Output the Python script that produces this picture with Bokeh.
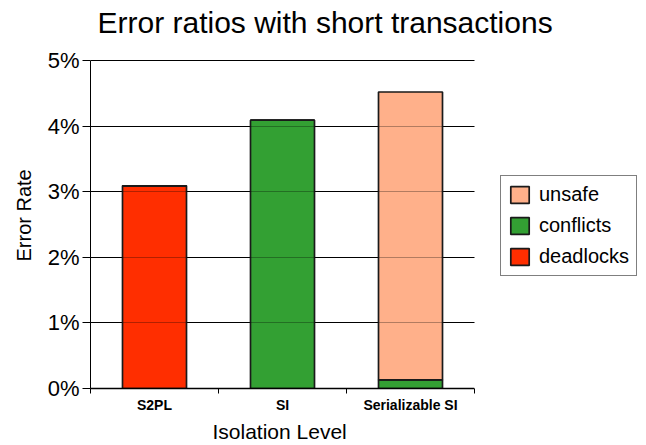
from bokeh.plotting import figure
from bokeh.models import (ColumnDataSource, FixedTicker, NumeralTickFormatter, Legend,
                          LegendItem, Grid, Range1d, BoxAnnotation, Label, Title)
from bokeh.embed import file_html
from bokeh.resources import INLINE

title_text = "Error ratios with short transactions"
x_title = "Isolation Level"
y_title = "Error Rate"
categories = ["S2PL", "SI", "Serializable SI"]
deadlocks = [0.0309, 0.0, 0.0]
conflicts = [0.0, 0.0409, 0.0013]
unsafe = [0.0, 0.0, 0.0439]
y_ticks = [0.0, 0.01, 0.02, 0.03, 0.04, 0.05]

n = len(categories)
y_max = y_ticks[-1]
x_pos = [i + 0.5 for i in range(n)]
src = ColumnDataSource(dict(x=x_pos, deadlocks=deadlocks, conflicts=conflicts, unsafe=unsafe))

FONT = "Liberation Sans"

# layout (pixels)
W, H = 646, 445
LEFT, BAR_AREA = 90, 384      # plot area width used by the categories
TOP, BOTTOM = 60, 388         # pixel rows of the 5% and 0% lines
x_end = n * (W - LEFT) / BAR_AREA          # frame extends under the legend area
y_end = y_max * BOTTOM / (BOTTOM - TOP)    # frame extends up under the title

p = figure(width=W, height=H, output_backend="svg", toolbar_location=None,
           x_range=Range1d(0, x_end), y_range=Range1d(0, y_end),
           min_border_left=LEFT, min_border_right=0, min_border_top=0,
           min_border_bottom=H - BOTTOM)
p.outline_line_color = None
p.background_fill_color = "white"
p.border_fill_color = "white"

colors = ["#FF2E00", "#33A033", "#FFB08A"]
names = ["deadlocks", "conflicts", "unsafe"]
rs = p.vbar_stack(names, x="x", width=0.5, source=src, color=colors,
                  line_color="#1a1a1a", line_width=1.7)

# y axis (limited to 0..5%)
p.yaxis.bounds = (0, y_max)
p.yaxis.ticker = FixedTicker(ticks=y_ticks)
p.yaxis.formatter = NumeralTickFormatter(format="0%")
p.yaxis.major_label_text_font = FONT
p.yaxis.major_label_text_font_size = "22px"
p.yaxis.major_label_text_color = "black"
p.yaxis.major_tick_in = 0
p.yaxis.major_tick_out = 8
p.yaxis.minor_tick_line_color = None
p.yaxis.axis_line_color = "black"
p.yaxis.major_tick_line_color = "black"
p.yaxis.major_label_standoff = 3

# x axis (limited to the category area)
p.xaxis.bounds = (0, n)
p.xaxis.ticker = FixedTicker(ticks=x_pos, minor_ticks=list(range(n + 1)))
p.xaxis.major_label_overrides = {x: c for x, c in zip(x_pos, categories)}
p.xaxis.major_label_text_font = FONT
p.xaxis.major_label_text_font_size = "14px"
p.xaxis.major_label_text_font_style = "bold"
p.xaxis.major_label_text_color = "black"
p.xaxis.major_tick_in = 0
p.xaxis.major_tick_out = 0
p.xaxis.minor_tick_in = 0
p.xaxis.minor_tick_out = 5
p.xaxis.minor_tick_line_color = "black"
p.xaxis.axis_line_color = "black"
p.xaxis.axis_line_width = 1.5
p.xaxis.major_label_standoff = 3

# axis titles, centred on the category / 0..5% area
xt = Title(text=x_title, text_font=FONT, text_font_size="21px", text_font_style="normal",
           text_color="black", align="left", offset=122, standoff=4)
p.add_layout(xt, "below")
yt = Title(text=y_title, text_font=FONT, text_font_size="20px", text_font_style="normal",
           text_color="black", align="left", offset=127, standoff=20)
p.add_layout(yt, "left")

p.xgrid.grid_line_color = None
p.ygrid.ticker = FixedTicker(ticks=y_ticks)
p.ygrid.grid_line_color = "black"
p.ygrid.grid_line_width = 1

# faint grid lines seen through the bars
over = Grid(dimension=1, ticker=FixedTicker(ticks=y_ticks[1:-1]), level="overlay",
            grid_line_color="black", grid_line_alpha=0.3)
p.add_layout(over)

# blank the area right of the categories (legend area)
mask = BoxAnnotation(left=n, fill_color="white", fill_alpha=1.0, line_color=None,
                     level="overlay")
p.add_layout(mask)

# chart title
title = Label(x=0, y=y_end, x_offset=7, y_offset=-22, text=title_text,
              text_font=FONT, text_font_size="30px", text_color="black",
              text_align="left", text_baseline="alphabetic", level="overlay")
p.add_layout(title)

items = [LegendItem(label=nm, renderers=[r]) for nm, r in zip(names, rs)][::-1]
legend = Legend(items=items, location=(410, 112), level="overlay")
legend.label_text_font = FONT
legend.label_text_font_size = "20px"
legend.label_text_color = "black"
legend.glyph_width = 23
legend.glyph_height = 21
legend.label_height = 21
legend.spacing = 8
legend.padding = 7
legend.margin = 0
legend.label_standoff = 8
legend.border_line_color = "black"
legend.border_line_width = 1
legend.background_fill_alpha = 1
p.add_layout(legend)

open("out.html", "w").write(file_html(p, INLINE))
